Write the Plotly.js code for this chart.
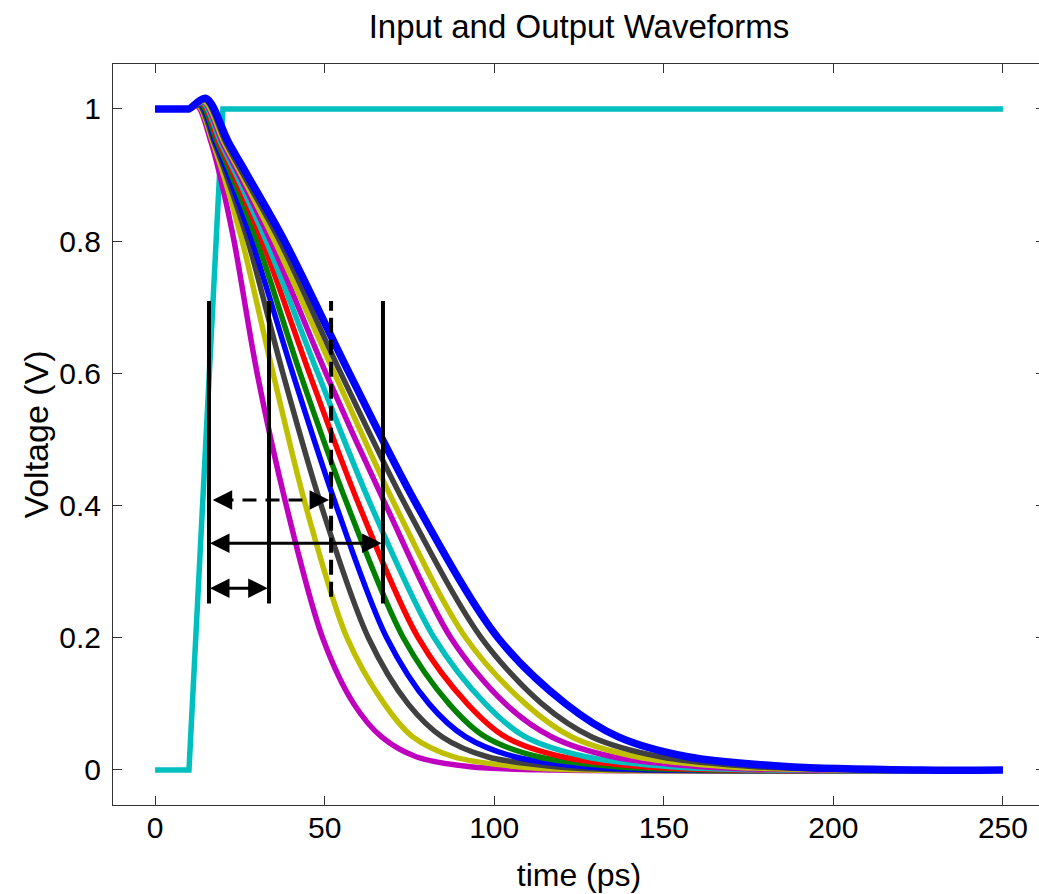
<!DOCTYPE html>
<html><head><meta charset="utf-8">
<script src="https://cdn.plot.ly/plotly-3.0.1.min.js"></script>
<style>html,body{margin:0;padding:0;overflow:hidden;background:#fff}#chart{width:1060px;height:894px}</style>
</head><body><div id="chart"></div>
<script>
// ---- data ----
const inputTime = [0, 10, 20, 250];
const inputVolt = [0, 0, 1, 1];

// output curves, fastest (0) to slowest (10); times (ps) at which each crosses a voltage level
const peakTime = [12.5, 12.8, 13.0, 13.3, 13.5, 13.8, 14.0, 14.3, 14.5, 14.8, 15.0];
const peakVolt = [1.004, 1.005, 1.006, 1.007, 1.008, 1.009, 1.010, 1.011, 1.012, 1.014, 1.016];
const t95  = [16.5, 17.0, 17.4, 17.8, 18.3, 18.8, 19.3, 19.8, 20.3, 20.8, 21.6];
const t90  = [19.1, 20.2, 21.0, 21.7, 22.5, 23.3, 24.0, 24.8, 25.5, 26.1, 27.2];
const t80  = [23.3, 25.7, 27.4, 28.6, 30.1, 31.6, 32.8, 34.1, 35.3, 36.8, 38.2];
const t60  = [30.1, 34.8, 37.7, 40.6, 42.8, 45.5, 48.0, 50.4, 52.9, 54.8, 57.3];
const t40  = [38.7, 44.4, 49.0, 53.4, 56.8, 60.2, 63.7, 68.1, 70.8, 73.9, 77.3];
const t20  = [49.4, 56.6, 62.9, 68.3, 73.2, 77.6, 82.3, 87.2, 91.6, 96.2, 101.1];
const t10  = [58.6, 67.6, 74.6, 80.8, 86.7, 92.1, 97.4, 103.3, 109.2, 114.1, 121.1];
const t05  = [66.8, 76.0, 84.7, 91.6, 97.4, 103.3, 109.2, 117.0, 122.9, 128.8, 136.6];
const t02  = [77, 88, 98, 106, 113, 120, 127, 135, 142, 149, 157];
const t005 = [93, 107, 118, 127, 136, 144, 152, 161, 169, 177, 187];
const tZero = [118, 128, 142, 152, 162, 172, 182, 192, 202, 212, 226];
const levelVolt = [0.95, 0.9, 0.8, 0.6, 0.4, 0.2, 0.1, 0.05, 0.02, 0.005, 0];
const flatEnd = 10;
const endTime = 250;

// measurement markers
const markerTime = [15.9, 33.6, 51.9, 67.2];
const markerTop = [0.7095, 0.7095, 0.7095, 0.7095];
const markerBottom = [0.252, 0.252, 0.262, 0.252];
const arrowLeft = [17.0, 16.2, 16.2];
const arrowRight = [51.3, 66.8, 33.2];
const arrowVolt = [0.4085, 0.343, 0.275];

const xTicks = [0, 50, 100, 150, 200, 250];
const yTicks = [0, 0.2, 0.4, 0.6, 0.8, 1];

// ---- styles ----
const colors = ['#BF00BF','#BFBF00','#404040','#0000FF','#008000','#FF0000','#00BFBF','#BF00BF','#BFBF00','#404040','#0000FF'];
const FONT = 'Liberation Sans, Arial, Helvetica, sans-serif';

const traces = [{
  x: inputTime, y: inputVolt, mode: 'lines', type: 'scatter',
  line: {color: '#00BFBF', width: 5.5}, hoverinfo: 'skip'
}];
for (let i = 0; i < colors.length; i++) {
  const xs = [0, flatEnd - 0.5, flatEnd, peakTime[i], t95[i], t90[i], t80[i], t60[i], t40[i], t20[i], t10[i], t05[i], t02[i], t005[i], tZero[i], endTime];
  const ys = [1, 1, 1, peakVolt[i]].concat(levelVolt, [0]);
  traces.push({
    x: xs, y: ys, mode: 'lines', type: 'scatter',
    line: {color: colors[i], width: i === colors.length - 1 ? 7.5 : 5.5, shape: 'spline', smoothing: 0.9},
    hoverinfo: 'skip'
  });
}

const shapes = [];
for (let k = 0; k < markerTime.length; k++) {
  shapes.push({type: 'line', xref: 'x', yref: 'y', x0: markerTime[k], x1: markerTime[k],
    y0: markerBottom[k], y1: markerTop[k],
    line: {color: '#000', width: 4, dash: k === 2 ? '15px,7px' : 'solid'}});
}
const annotations = [];
for (let k = 0; k < arrowVolt.length; k++) {
  shapes.push({type: 'line', xref: 'x', yref: 'y', x0: arrowLeft[k] + 2, x1: arrowRight[k] - 2,
    y0: arrowVolt[k], y1: arrowVolt[k],
    line: {color: '#000', width: 3, dash: k === 0 ? '14px,9px' : 'solid'}});
  [[arrowLeft[k], arrowLeft[k] + 4.5], [arrowRight[k], arrowRight[k] - 4.5]].forEach(function (p) {
    annotations.push({xref: 'x', yref: 'y', axref: 'x', ayref: 'y', x: p[0], y: arrowVolt[k],
      ax: p[1], ay: arrowVolt[k], showarrow: true, arrowhead: 2, arrowsize: 1.3,
      arrowwidth: 3, arrowcolor: '#000', text: '', standoff: 0, startstandoff: 0});
  });
}

const axisCommon = {
  showgrid: false, zeroline: false, showline: true, linecolor: '#333', linewidth: 1,
  mirror: 'ticks', ticks: 'inside', ticklen: 9, tickwidth: 1, tickcolor: '#333',
  tickfont: {family: FONT, size: 30, color: '#000'}
};

const layout = {
  width: 1060, height: 894, autosize: false,
  margin: {l: 113, r: 15, t: 64, b: 89, pad: 0},
  paper_bgcolor: '#fff', plot_bgcolor: '#fff', showlegend: false,
  title: {text: 'Input and Output Waveforms', font: {family: FONT, size: 33, color: '#000'},
    x: 0.5, xref: 'paper', y: 1 - 26 / 894, yref: 'container', yanchor: 'middle'},
  xaxis: Object.assign({}, axisCommon, {range: [-12.4, 262.4], tickvals: xTicks, ticklabelstandoff: -4,
    title: {text: 'time (ps)', font: {family: FONT, size: 32, color: '#000'}, standoff: 20}}),
  yaxis: Object.assign({}, axisCommon, {range: [-0.053, 1.068], tickvals: yTicks, ticklabelstandoff: 5,
    title: {text: 'Voltage (V)', font: {family: FONT, size: 34, color: '#000'}, standoff: 0}}),
  shapes: shapes, annotations: annotations
};

Plotly.newPlot('chart', traces, layout, {staticPlot: true, displayModeBar: false});
</script>
</body></html>
